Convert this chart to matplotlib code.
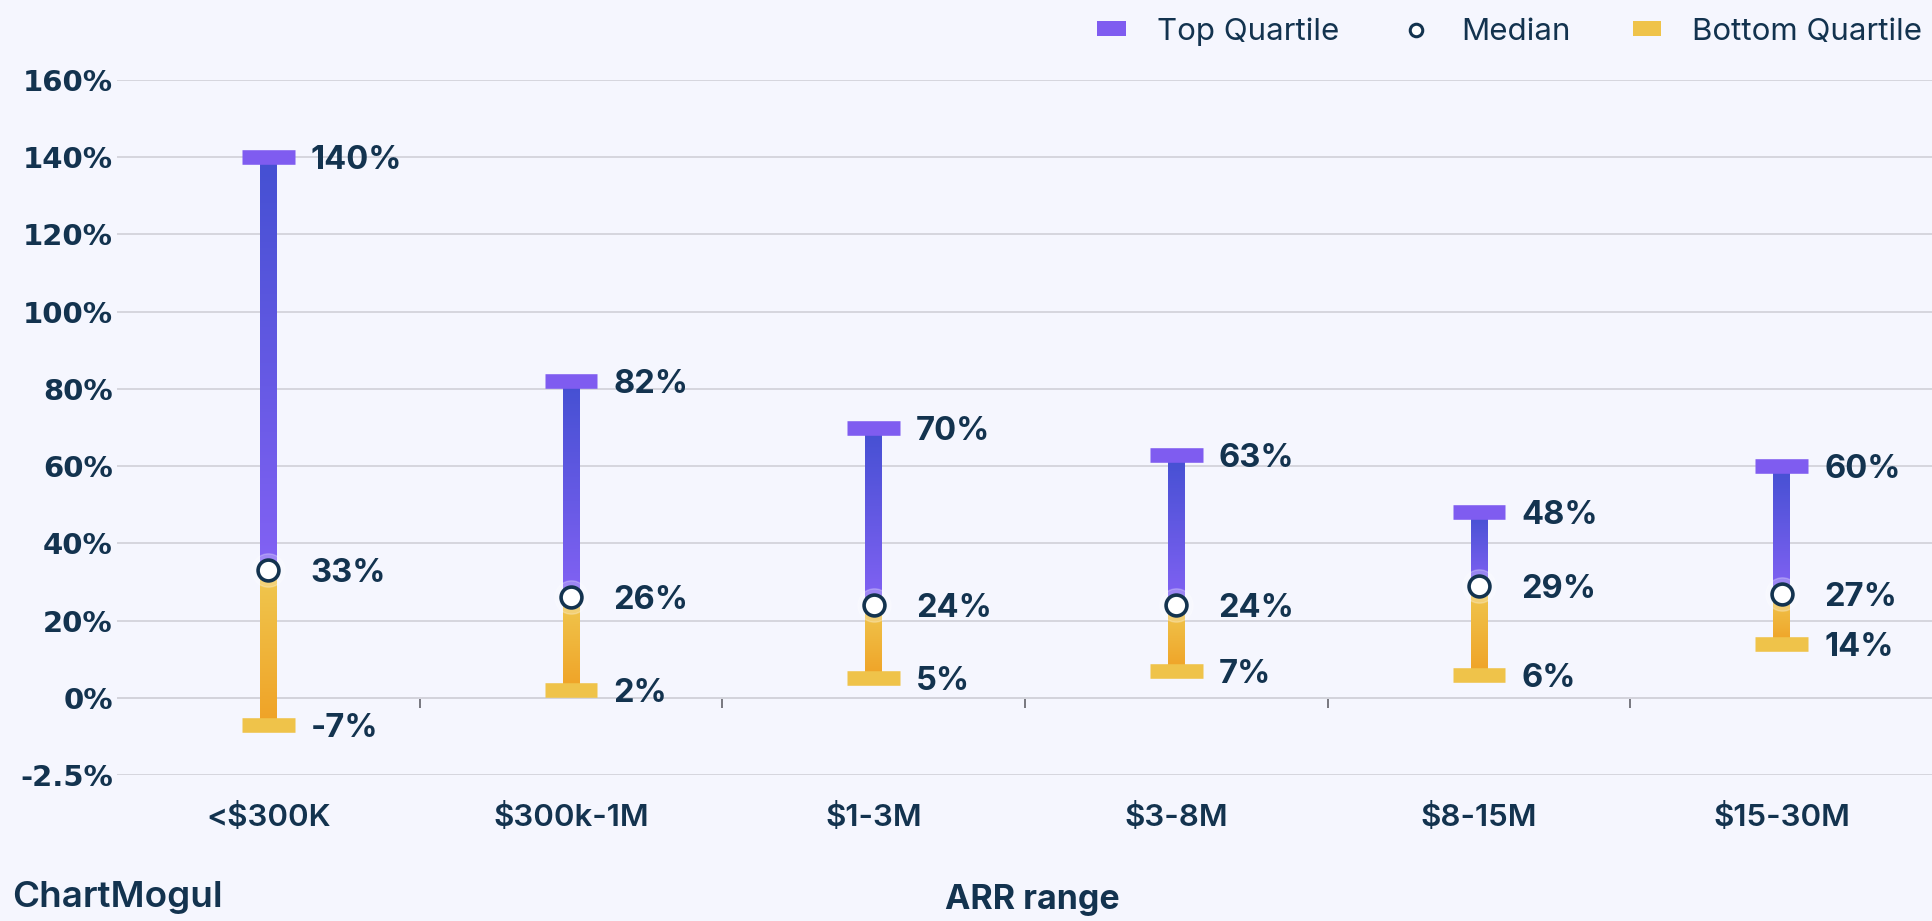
import numpy as np
import matplotlib

matplotlib.use("Agg")
import matplotlib.pyplot as plt
from matplotlib.colors import LinearSegmentedColormap
from matplotlib.lines import Line2D
from matplotlib.patches import Patch

# data
categories = ["<$300K", "$300k-1M", "$1-3M", "$3-8M", "$8-15M", "$15-30M"]
top_quartile = [140, 82, 70, 63, 48, 60]
median = [33, 26, 24, 24, 29, 27]
bottom_quartile = [-7, 2, 5, 7, 6, 14]
y_ticks = [-20, 0, 20, 40, 60, 80, 100, 120, 140, 160]
y_tick_labels = ["-2.5%", "0%", "20%", "40%", "60%", "80%", "100%", "120%", "140%", "160%"]

NAVY = "#13334f"
BG = "#f5f6fe"
PURPLE = "#7f5cf0"
YELLOW = "#efc34a"
top_cmap = LinearSegmentedColormap.from_list("top", ["#8362f4", "#4450d2"])
bot_cmap = LinearSegmentedColormap.from_list("bot", ["#f0a226", "#efc850"])

W_IN, H_IN = 1933, 921
fig = plt.figure(figsize=(W_IN / 100, H_IN / 100), dpi=100, facecolor=BG)
ax = fig.add_axes([117 / W_IN, 1 - 775 / H_IN, 1 - 117 / W_IN, (775 - 80) / H_IN])
ax.set_facecolor(BG)

x = np.arange(len(categories))
stem_w = 0.056
cap_w = 0.175
grad = np.linspace(0, 1, 256).reshape(-1, 1)

for xi, t, m, b in zip(x, top_quartile, median, bottom_quartile):
    ax.imshow(grad, extent=(xi - stem_w / 2, xi + stem_w / 2, m, t), cmap=top_cmap,
              aspect="auto", origin="lower", zorder=3)
    ax.imshow(grad, extent=(xi - stem_w / 2, xi + stem_w / 2, b, m), cmap=bot_cmap,
              aspect="auto", origin="lower", zorder=3)

ax.hlines(top_quartile, x - cap_w / 2, x + cap_w / 2, color=PURPLE, lw=10.5, capstyle="butt", zorder=4)
ax.hlines(bottom_quartile, x - cap_w / 2, x + cap_w / 2, color=YELLOW, lw=10.5, capstyle="butt", zorder=4)
ax.plot(x, median, "o", ms=24, mfc="white", mec="white", alpha=0.25, ls="none", zorder=4)
ax.plot(x, median, "o", ms=15, mfc="white", mec=NAVY, mew=2.6, ls="none", zorder=5)

lab_dx = 0.14
for xi, t, m, b in zip(x, top_quartile, median, bottom_quartile):
    for v in (t, m, b):
        ax.text(xi + lab_dx, v, f"{v}%", ha="left", va="center_baseline", fontsize=23.5,
                fontweight="bold", family=["Inter", "DejaVu Sans"], color=NAVY, zorder=6)

ax.set_xlim(-0.5, len(categories) - 0.5)
ax.set_ylim(-20, 160)
ax.set_yticks(y_ticks)
ax.set_yticklabels(y_tick_labels, fontsize=21, fontweight="bold", family="DejaVu Sans", color=NAVY)
ax.set_xticks(x)
ax.set_xticklabels(categories, fontsize=22.5, fontweight="semibold", family=["Inter", "DejaVu Sans"], color=NAVY)
ax.tick_params(axis="y", length=0, pad=3)
ax.tick_params(axis="x", length=0, pad=20)
ax.grid(axis="y", color="#d6d6de", lw=1.4, zorder=0)
ax.axhline(0, color="#6d6d75", lw=1.3, zorder=1)
ax.vlines(x[:-1] + 0.5, -2.6, 0, color="#6d6d75", lw=1.3, zorder=1)
for s in ax.spines.values():
    s.set_visible(False)

handles = [
    Patch(facecolor=PURPLE, edgecolor="none", label="Top Quartile"),
    Line2D([], [], marker="o", ls="none", ms=9, mfc="white", mec=NAVY, mew=2.2, label="Median"),
    Patch(facecolor=YELLOW, edgecolor="none", label="Bottom Quartile"),
]
fig.legend(handles=handles, loc="upper right", bbox_to_anchor=(1.009, 1.012), ncol=3, frameon=False,
           prop={"family": ["Inter", "DejaVu Sans"], "size": 22.5}, labelcolor=NAVY,
           handlelength=0.9, handleheight=0.35, handletextpad=1.0, columnspacing=2.0)

fig.text(1032 / W_IN, 1 - 900 / H_IN, "ARR range", ha="center", va="center", fontsize=24.5,
         fontweight="bold", family=["Inter", "DejaVu Sans"], color=NAVY)
fig.text(12 / W_IN, 1 - 897 / H_IN, "ChartMogul", ha="left", va="center", fontsize=26.5,
         fontweight="semibold", family=["Inter", "DejaVu Sans"], color=NAVY)

fig.savefig("out.png", dpi=100, facecolor=BG)
